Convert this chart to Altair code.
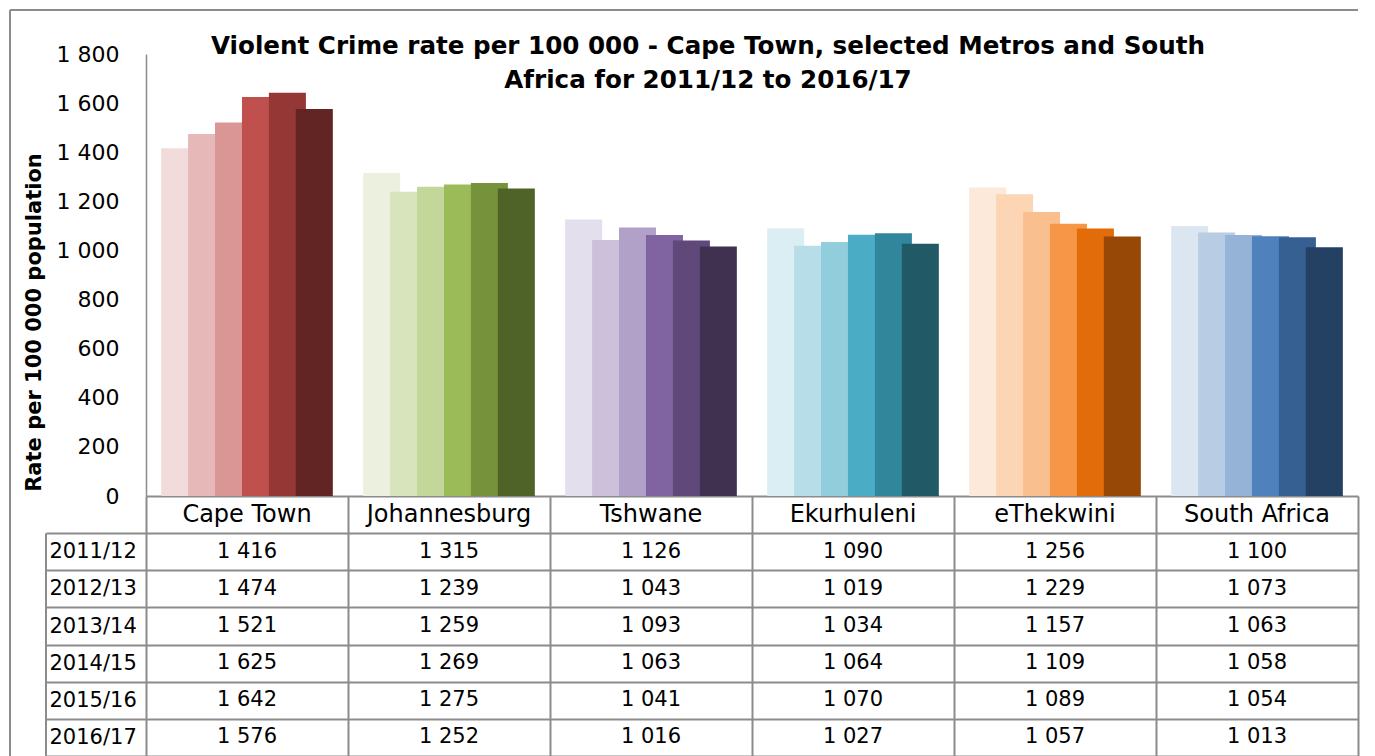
import altair as alt
import pandas as pd

# ---------------- data ----------------
cities = ["Cape Town", "Johannesburg", "Tshwane", "Ekurhuleni", "eThekwini", "South Africa"]
years = ["2011/12", "2012/13", "2013/14", "2014/15", "2015/16", "2016/17"]

cape_town = [1416, 1474, 1521, 1625, 1642, 1576]
johannesburg = [1315, 1239, 1259, 1269, 1275, 1252]
tshwane = [1126, 1043, 1093, 1063, 1041, 1016]
ekurhuleni = [1090, 1019, 1034, 1064, 1070, 1027]
ethekwini = [1256, 1229, 1157, 1109, 1089, 1057]
south_africa = [1100, 1073, 1063, 1058, 1054, 1013]

y_ticks = [0, 200, 400, 600, 800, 1000, 1200, 1400, 1600, 1800]
title_lines = [
    "Violent Crime rate per 100 000 - Cape Town, selected Metros and South",
    "Africa for 2011/12 to 2016/17",
]
y_title = "Rate per 100 000 population"
header_row = "hdr"

# ---------------- styles ----------------
palette = {
    "Cape Town": ["#F2DCDB", "#E6B9B8", "#D99694", "#C0504D", "#953735", "#632523"],
    "Johannesburg": ["#EBF1DE", "#D8E4BC", "#C4D79B", "#9BBB59", "#76933C", "#4F6228"],
    "Tshwane": ["#E4DFEC", "#CCC0DA", "#B1A0C7", "#8064A2", "#60497A", "#403151"],
    "Ekurhuleni": ["#DAEEF3", "#B7DEE8", "#92CDDC", "#4BACC6", "#31869B", "#215967"],
    "eThekwini": ["#FDE9D9", "#FCD5B4", "#FABF8F", "#F79646", "#E26B0A", "#974706"],
    "South Africa": ["#DCE6F1", "#B8CCE4", "#95B3D7", "#4F81BD", "#366092", "#244062"],
}
FONT = "DejaVu Sans"
GRID = "#8c8c8c"
W = 1212
H_BAR = 442
H_TAB = 260


def fmt(v):
    return f"{v:,}".replace(",", " ")


series = [cape_town, johannesburg, tshwane, ekurhuleni, ethekwini, south_africa]
rec = []
keys, colors = [], []
for c, vals in zip(cities, series):
    for i, (yr, v) in enumerate(zip(years, vals)):
        k = f"{c}|{yr}"
        rec.append({"city": c, "year": yr, "value": v, "key": k})
        keys.append(k)
        colors.append(palette[c][i])
df = pd.DataFrame(rec)

trec = []
for c, vals in zip(cities, series):
    trec.append({"city": c, "row": header_row, "label": c, "kind": "header"})
    for yr, v in zip(years, vals):
        trec.append({"city": c, "row": yr, "label": fmt(v), "kind": "value"})
tab_df = pd.DataFrame(trec)
rows = [header_row] + years

one = pd.DataFrame({"f": [0]})

# ---------------- bar panel ----------------
bars = alt.Chart(df).mark_bar(width=37).encode(
    x=alt.X("city:N", sort=cities,
            scale=alt.Scale(domain=cities, paddingInner=0.2, paddingOuter=0.1),
            axis=alt.Axis(labels=False, ticks=False, title=None, grid=False,
                          domainColor=GRID, domainWidth=2)),
    xOffset=alt.XOffset("year:N", sort=years,
                        scale=alt.Scale(domain=years, paddingInner=0, paddingOuter=0)),
    y=alt.Y("value:Q", scale=alt.Scale(domain=[0, 1800], nice=False),
            axis=alt.Axis(values=y_ticks,
                          labelExpr="replace(format(datum.value, ','), ',', ' ')",
                          ticks=False, grid=False, domainColor=GRID, domainWidth=1.5,
                          labelFont=FONT, labelFontSize=22, labelColor="black",
                          labelPadding=27,
                          title=y_title, titleFont=FONT, titleFontSize=21,
                          titleFontWeight="bold", titleColor="black",
                          titleAngle=270, titleX=-112, titleY=268,
                          titleAlign="center", titleBaseline="middle")),
    color=alt.Color("key:N", scale=alt.Scale(domain=keys, range=colors), legend=None),
)

frame_left = alt.Chart(one).mark_rule(color=GRID, strokeWidth=2).encode(
    x=alt.value(-136), y=alt.value(-44), y2=alt.value(H_BAR + H_TAB + 10))
frame_top = alt.Chart(one).mark_rule(color=GRID, strokeWidth=2).encode(
    x=alt.value(-136), x2=alt.value(W), y=alt.value(-44))

title1 = alt.Chart(one).mark_text(
    text=title_lines[0], font=FONT, fontSize=24.6, fontWeight="bold", color="black",
    align="center", baseline="alphabetic").encode(x=alt.value(562), y=alt.value(0))
title2 = alt.Chart(one).mark_text(
    text=title_lines[1], font=FONT, fontSize=24.6, fontWeight="bold", color="black",
    align="center", baseline="alphabetic").encode(x=alt.value(562), y=alt.value(34))

top = alt.layer(frame_left, frame_top, bars, title1, title2).properties(
    width=W, height=H_BAR)

# ---------------- data table panel ----------------
tx_scale = alt.Scale(domain=cities, paddingInner=0, paddingOuter=0)
tx_axis = alt.Axis(labels=False, ticks=False, domain=False, title=None, grid=True,
                   tickBand="extent", gridColor=GRID, gridWidth=2)
ty_scale = alt.Scale(domain=rows, paddingInner=0, paddingOuter=0)
ty_axis = alt.Axis(values=years, tickBand="extent", grid=True, gridColor=GRID, gridWidth=2,
                   ticks=True, tickSize=100, tickColor=GRID, tickWidth=2, domain=False,
                   labelAlign="left", labelPadding=-3, labelBaseline="middle",
                   labelFont=FONT, labelFontSize=21,
                   labelColor="black", title=None)

hdr_text = alt.Chart(tab_df).transform_filter("datum.kind == 'header'").mark_text(
    font=FONT, fontSize=24, color="black").encode(
    x=alt.X("city:N", scale=tx_scale, axis=tx_axis),
    y=alt.Y("row:N", scale=ty_scale, axis=ty_axis),
    text="label:N")
val_text = alt.Chart(tab_df).transform_filter("datum.kind == 'value'").mark_text(
    font=FONT, fontSize=21, color="black").encode(
    x=alt.X("city:N", scale=tx_scale, axis=tx_axis),
    y=alt.Y("row:N", scale=ty_scale, axis=ty_axis),
    text="label:N")
box_line = alt.Chart(pd.DataFrame({"row": [years[0]]})).mark_rule(
    color=GRID, strokeWidth=2).encode(
    x=alt.value(-100),
    y=alt.Y("row:N", scale=ty_scale, axis=ty_axis, bandPosition=0),
    y2=alt.value(H_TAB + 10))

table = alt.layer(hdr_text, val_text, box_line).properties(width=W, height=H_TAB)

chart = alt.vconcat(top, table, spacing=0, bounds="flush").resolve_scale(
    x="independent", y="independent").properties(
    padding={"left": 0, "top": 0, "right": 0, "bottom": 0}
).configure_view(stroke="transparent")

chart.save("out.html", embed_options={"renderer": "svg", "actions": False})
